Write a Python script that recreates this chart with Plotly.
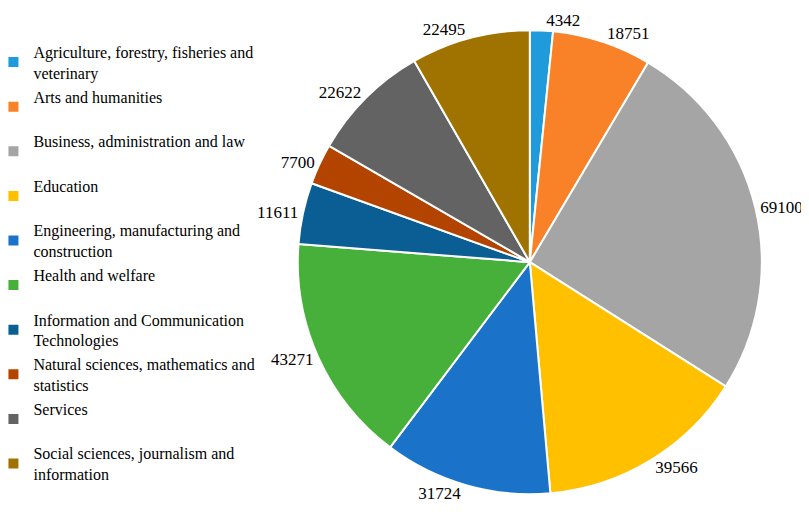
import plotly.graph_objects as go

fields = [
    "Agriculture, forestry, fisheries and<br>veterinary",
    "Arts and humanities<br> ",
    "Business, administration and law<br> ",
    "Education<br> ",
    "Engineering, manufacturing and<br>construction",
    "Health and welfare<br> ",
    "Information and Communication<br>Technologies",
    "Natural sciences, mathematics and<br>statistics",
    "Services<br> ",
    "Social sciences, journalism and<br>information",
]
graduates = [4342, 18751, 69100, 39566, 31724, 43271, 11611, 7700, 22622, 22495]
colors = ["#1F9BDB", "#F98128", "#A5A5A5", "#FFC000", "#1B72C9",
          "#47B03A", "#0B5E94", "#B34400", "#636363", "#A07300"]

pie_domain = dict(x=[0.358, 0.932], y=[0.056, 0.957])
label_font = dict(family="Liberation Serif", size=17, color="black")

# the smallest slice gets its label from a second, invisible copy of the pie
# so plotly does not push it away (and draw a leader line) next to 18751
main_tpl = [""] + ["%{value:.0f}"] * (len(graduates) - 1)
small_tpl = ["%{value:.0f}"] + [""] * (len(graduates) - 1)

fig = go.Figure()
fig.add_trace(go.Pie(
    labels=fields,
    values=graduates,
    sort=False,
    direction="clockwise",
    rotation=0,
    marker=dict(colors=colors, line=dict(color="white", width=2)),
    texttemplate=main_tpl,
    textposition="outside",
    textfont=label_font,
    domain=pie_domain,
    hoverinfo="label+value+percent",
))
fig.add_trace(go.Pie(
    labels=fields,
    values=graduates,
    sort=False,
    direction="clockwise",
    rotation=0,
    marker=dict(colors=["rgba(0,0,0,0)"] * len(graduates), line=dict(width=0)),
    texttemplate=small_tpl,
    textposition="outside",
    textfont=label_font,
    domain=pie_domain,
    showlegend=False,
    hoverinfo="skip",
))

fig.update_layout(
    width=809, height=515,
    margin=dict(l=0, r=0, t=0, b=0, autoexpand=False),
    paper_bgcolor="white",
    font=dict(family="Liberation Serif", color="black"),
    legend=dict(x=-0.018, y=0.948, xanchor="left", yanchor="top",
                bgcolor="rgba(0,0,0,0)",
                font=dict(family="Liberation Serif", size=16),
                itemwidth=30),
)

fig.write_html("out.html")
